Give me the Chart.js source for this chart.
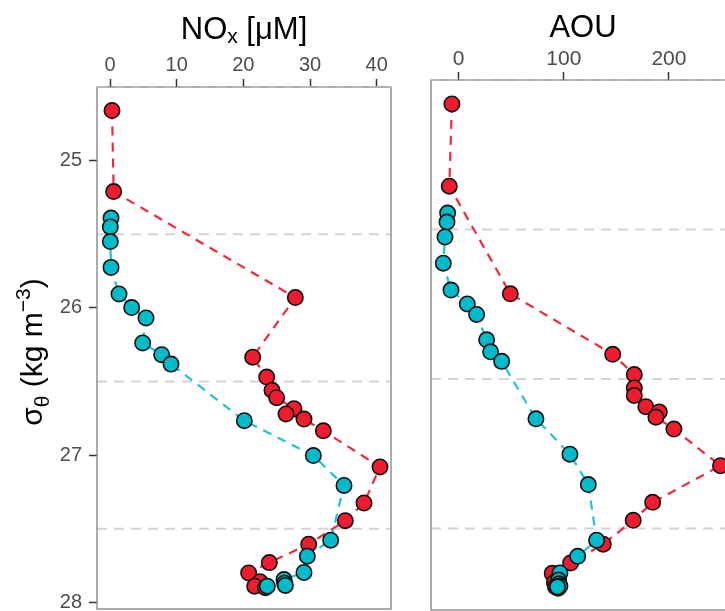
<!DOCTYPE html>
<html>
<head>
<meta charset="utf-8">
<script src="https://cdn.jsdelivr.net/npm/chart.js@4.4.1/dist/chart.umd.min.js"></script>
<style>
  html, body { margin: 0; padding: 0; background: #fff; overflow: hidden; }
  #wrap { position: relative; width: 725px; height: 611px; overflow: hidden; }
  #noxCanvas { position: absolute; left: 0; top: 0; width: 400px; height: 611px; }
  #aouCanvas { position: absolute; left: 400px; top: 0; width: 360px; height: 611px; }
</style>
</head>
<body>
<div id="wrap">
  <canvas id="noxCanvas" width="400" height="611"></canvas>
  <canvas id="aouCanvas" width="360" height="611"></canvas>
</div>
<script>
  // red profile
  const redSigma = [24.66, 25.21, 25.93, 26.335, 26.47, 26.56, 26.61, 26.685, 26.72, 26.755,
                    26.835, 27.08, 27.325, 27.445, 27.605, 27.73, 27.80, 27.86, 27.89, 27.90];
  const redNOx = [0.3, 0.55, 27.8, 21.4, 23.5, 24.3, 25.0, 27.6, 26.4, 29.1,
                  32.0, 40.5, 38.1, 35.3, 29.8, 23.9, 20.8, 22.5, 21.7, 23.3];
  const redAOU = [-6.4, -8.9, 49.1, 146.5, 167, 167, 167, 178, 190.8, 187.6,
                  204.7, 249, 184.5, 166, 137.5, 106.5, 89, 91, 92, 94.5];

  // blue profile
  const blueSigma = [25.39, 25.45, 25.55, 25.725, 25.905, 25.998, 26.068, 26.238, 26.318, 26.382,
                     26.766, 27.003, 27.206, 27.578, 27.686, 27.797, 27.845, 27.87, 27.885, 27.89];
  const blueNOx = [0.15, 0.05, 0.05, 0.15, 1.35, 3.25, 5.4, 4.9, 7.75, 9.15,
                   20.15, 30.5, 35.1, 33.1, 29.6, 29.1, 26.1, 26.2, 26.3, 23.6];
  const blueAOU = [-10.5, -11.1, -13, -14.6, -7.3, 8.2, 17.1, 26.6, 30.4, 40.9,
                   73.5, 105.8, 123.3, 131.2, 113.2, 96.3, 95, 95.5, 96.3, 94];

  const sigmaTicks = [25, 26, 27, 28];
  const noxTicks = [0, 10, 20, 30, 40];
  const aouTicks = [0, 100, 200];
  const refLines = [24.5, 25.5, 26.5, 27.5];

  const FONT = '"Liberation Sans", Arial, Helvetica, sans-serif';
  const redFill = '#ee1c2e', redLine = '#ee2a3a';
  const blueFill = '#00bcca', blueLine = '#1ec4d2';

  function series(xs, ys, fill, line, order) {
    return {
      data: xs.map((x, i) => ({ x: x, y: ys[i] })),
      showLine: true,
      borderColor: line,
      borderWidth: 2.2,
      borderDash: [9, 7],
      pointBackgroundColor: fill,
      pointBorderColor: '#111',
      pointBorderWidth: 1.6,
      pointRadius: 7.7,
      pointHoverRadius: 7.7,
      order: order
    };
  }

  // tekst met sub/superscript
  function drawRich(ctx, parts, x, y) {
    let total = 0;
    parts.forEach(p => {
      ctx.font = p.size + 'px ' + FONT;
      p.w = ctx.measureText(p.t).width;
      total += p.w;
    });
    let cx = x - total / 2;
    ctx.textAlign = 'left';
    ctx.textBaseline = 'alphabetic';
    ctx.fillStyle = '#000';
    parts.forEach(p => {
      ctx.font = p.size + 'px ' + FONT;
      ctx.fillText(p.t, cx, y + (p.dy || 0));
      cx += p.w;
    });
  }

  const panelDeco = {
    id: 'panelDeco',
    beforeDatasetsDraw(chart) {
      const { ctx, chartArea: a, scales: { y } } = chart;
      ctx.save();
      ctx.strokeStyle = '#d4d4d4';
      ctx.lineWidth = 2;
      ctx.setLineDash([10, 7]);
      refLines.forEach(v => {
        const py = y.getPixelForValue(v);
        ctx.beginPath();
        ctx.moveTo(a.left, py);
        ctx.lineTo(a.right, py);
        ctx.stroke();
      });
      ctx.restore();
    },
    afterDatasetsDraw(chart, args, opts) {
      const { ctx, chartArea: a, scales: { y } } = chart;
      ctx.save();
      ctx.strokeStyle = '#808080';
      ctx.lineWidth = 1.3;
      ctx.strokeRect(a.left, a.top, a.right - a.left, a.bottom - a.top);
      // gestippelde lijn bovenaan over de rand
      ctx.strokeStyle = '#d4d4d4';
      ctx.lineWidth = 1.2;
      ctx.setLineDash([10, 7]);
      const py = y.getPixelForValue(refLines[0]);
      ctx.beginPath();
      ctx.moveTo(a.left, py);
      ctx.lineTo(a.right, py);
      ctx.stroke();
      ctx.setLineDash([]);

      drawRich(ctx, opts.title, opts.titleX, opts.titleY);
      if (opts.yTitle) {
        ctx.translate(opts.yTitle.x, opts.yTitle.y);
        ctx.rotate(-Math.PI / 2);
        drawRich(ctx, opts.yTitle.parts, 0, 0);
      }
      ctx.restore();
    }
  };

  function xAxis(min, max, ticks, height, size, pad) {
    return {
      type: 'linear',
      position: 'top',
      min: min,
      max: max,
      afterBuildTicks: s => { s.ticks = ticks.map(v => ({ value: v })); },
      afterFit: s => {
        s.height = height;
        s.paddingLeft = 0;
        s.paddingRight = 0;
      },
      ticks: {
        color: '#4d4d4d',
        font: { family: FONT, size: size },
        padding: pad,
        maxRotation: 0,
        autoSkip: false,
        callback: v => String(v)
      },
      grid: { drawOnChartArea: false, drawTicks: true, tickLength: 8, tickColor: '#333', tickWidth: 1.5 },
      border: { display: false }
    };
  }

  function yAxis(show) {
    return {
      type: 'linear',
      display: show,
      reverse: true,
      min: 24.5,
      max: 28.045,
      afterBuildTicks: s => { s.ticks = sigmaTicks.map(v => ({ value: v })); },
      afterFit: s => {
        s.width = show ? 97 : 0;
        s.paddingTop = 0;
        s.paddingBottom = 0;
      },
      ticks: {
        color: '#4d4d4d',
        font: { family: FONT, size: 20 },
        padding: 7,
        autoSkip: false,
        callback: v => String(v)
      },
      grid: { drawOnChartArea: false, drawTicks: true, tickLength: 8, tickColor: '#333', tickWidth: 1.5 },
      border: { display: false }
    };
  }

  new Chart(document.getElementById('noxCanvas'), {
    type: 'scatter',
    data: {
      datasets: [
        series(blueNOx, blueSigma, blueFill, blueLine, 0),
        series(redNOx, redSigma, redFill, redLine, 1)
      ]
    },
    options: {
      responsive: false,
      animation: false,
      layout: { autoPadding: false, padding: { left: 0, top: 0, right: 9, bottom: 2 } },
      plugins: {
        legend: { display: false },
        tooltip: { enabled: false },
        panelDeco: {
          title: [
            { t: 'NO', size: 31 },
            { t: 'x', size: 21, dy: 4.5 },
            { t: ' [\u03bcM]', size: 31 }
          ],
          titleX: 244,
          titleY: 38.5,
          yTitle: {
            x: 42,
            y: 352,
            parts: [
              { t: '\u03c3', size: 30 },
              { t: '\u03b8', size: 21, dy: 7 },
              { t: ' (kg m', size: 30 },
              { t: '\u22123', size: 21, dy: -12 },
              { t: ')', size: 30 }
            ]
          }
        }
      },
      scales: {
        x: xAxis(-1.95, 42.15, noxTicks, 87, 20, 2),
        y: yAxis(true)
      }
    },
    plugins: [panelDeco]
  });

  new Chart(document.getElementById('aouCanvas'), {
    type: 'scatter',
    data: {
      datasets: [
        series(blueAOU, blueSigma, blueFill, blueLine, 0),
        series(redAOU, redSigma, redFill, redLine, 1)
      ]
    },
    options: {
      responsive: false,
      animation: false,
      layout: { autoPadding: false, padding: { left: 31, top: 0, right: 25, bottom: 1 } },
      plugins: {
        legend: { display: false },
        tooltip: { enabled: false },
        panelDeco: {
          title: [{ t: 'AOU', size: 31 }],
          titleX: 183,
          titleY: 36.7
        }
      },
      scales: {
        x: xAxis(-26.3, 262.8, aouTicks, 80, 21, 0),
        y: yAxis(false)
      }
    },
    plugins: [panelDeco]
  });
</script>
</body>
</html>
